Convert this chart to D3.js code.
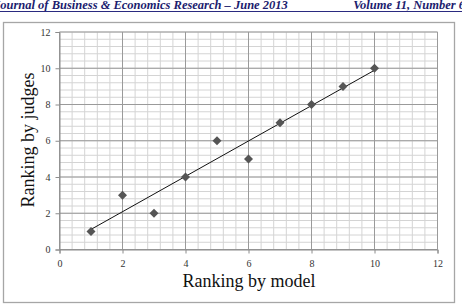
<!DOCTYPE html>
<html>
<head>
<meta charset="utf-8">
<script src="https://cdn.jsdelivr.net/npm/d3@7"></script>
<style>
  body { margin: 0; background: #fff; }
  svg { display: block; font-family: "Liberation Serif", "DejaVu Serif", serif; }
</style>
</head>
<body>
<div id="chart"></div>
<script>
// data
var modelRank = [1, 2, 3, 4, 5, 6, 7, 8, 9, 10];
var judgeRank = [1, 3, 2, 4, 6, 5, 7, 8, 9, 10];
var xTicks = [0, 2, 4, 6, 8, 10, 12];
var yTicks = [0, 2, 4, 6, 8, 10, 12];
var headerLeft = "Journal of Business & Economics Research – June 2013";
var headerRight = "Volume 11, Number 6";

var W = 462, H = 306;
var margin = {top: 32, right: 24.5, bottom: 56.5, left: 59.5},
  width = 437.5 - margin.left,
  height = 249.5 - margin.top;

var svg = d3.select("#chart")
  .append("svg")
    .attr("width", W)
    .attr("height", H);

// page header (cut at the page edges, as in the scan)
svg.append("text").attr("x", -6).attr("y", 9)
  .text(headerLeft)
  .style("font-size", "12.5px").style("font-weight", "bold").style("font-style", "italic")
  .attr("fill", "#1c1c6e");
svg.append("text").attr("x", 465).attr("y", 9).attr("text-anchor", "end")
  .text(headerRight)
  .style("font-size", "12.5px").style("font-weight", "bold").style("font-style", "italic")
  .attr("fill", "#1c1c6e");
svg.append("line").attr("x1", 0).attr("x2", W).attr("y1", 11.5).attr("y2", 11.5)
  .attr("stroke", "#2a2a80").attr("stroke-width", 1.2);

// chart frame
svg.append("rect").attr("x", 3.5).attr("y", 22.5).attr("width", 451).attr("height", 280)
  .attr("fill", "none").attr("stroke", "#a6a6a6").attr("stroke-width", 1.3);

var g = svg.append("g")
  .attr("transform", "translate(" + margin.left + "," + margin.top + ")");

var x = d3.scaleLinear().domain([0, 12]).range([0, width]);
var y = d3.scaleLinear().domain([0, 12]).range([height, 0]);

// minor grid every 0.4
var minor = d3.range(0, 12.001, 0.4);
g.append("g").selectAll("line.mx").data(minor).join("line")
  .attr("x1", d => x(d)).attr("x2", d => x(d))
  .attr("y1", 0).attr("y2", height)
  .attr("stroke", "#d4d4d4").attr("stroke-width", 1);
g.append("g").selectAll("line.my").data(minor).join("line")
  .attr("y1", d => y(d)).attr("y2", d => y(d))
  .attr("x1", 0).attr("x2", width)
  .attr("stroke", "#d4d4d4").attr("stroke-width", 1);

// major grid every 2
g.append("g").selectAll("line").data(xTicks).join("line")
  .attr("x1", d => x(d)).attr("x2", d => x(d))
  .attr("y1", 0).attr("y2", height)
  .attr("stroke", "#9a9a9a").attr("stroke-width", 1);
g.append("g").selectAll("line").data(yTicks).join("line")
  .attr("y1", d => y(d)).attr("y2", d => y(d))
  .attr("x1", 0).attr("x2", width)
  .attr("stroke", "#9a9a9a").attr("stroke-width", 1);

// axes
var xAxis = g.append("g")
  .attr("transform", "translate(0," + height + ")")
  .call(d3.axisBottom(x).tickValues(xTicks).tickSize(4).tickPadding(6));
var yAxis = g.append("g")
  .call(d3.axisLeft(y).tickValues(yTicks).tickSize(4).tickPadding(5));
[xAxis, yAxis].forEach(function(a) {
  a.select(".domain").attr("stroke", "#8c8c8c");
  a.selectAll(".tick line").attr("stroke", "#8c8c8c");
  a.selectAll("text").style("font-size", "10px").style("font-family", "Liberation Serif, serif").attr("fill", "#333");
});

// linear trendline (least squares)
var mx = d3.mean(modelRank), my = d3.mean(judgeRank);
var sxy = d3.sum(modelRank, (v, i) => (v - mx) * (judgeRank[i] - my));
var sxx = d3.sum(modelRank, v => (v - mx) * (v - mx));
var slope = sxy / sxx, icpt = my - slope * mx;
var x0 = d3.min(modelRank), x1 = d3.max(modelRank);
g.append("line")
  .attr("x1", x(x0)).attr("y1", y(icpt + slope * x0))
  .attr("x2", x(x1)).attr("y2", y(icpt + slope * x1))
  .attr("stroke", "#111").attr("stroke-width", 1);

// points
g.append("g").selectAll("path").data(modelRank).join("path")
  .attr("transform", (d, i) => "translate(" + x(d) + "," + y(judgeRank[i]) + ")")
  .attr("d", "M0,-4.5L4.5,0L0,4.5L-4.5,0Z")
  .attr("fill", "#555");

// axis titles
svg.append("text").attr("x", 249).attr("y", 287).attr("text-anchor", "middle")
  .text("Ranking by model").style("font-size", "18px").attr("fill", "#111");
svg.append("text").attr("transform", "translate(34,140) rotate(-90)").attr("text-anchor", "middle")
  .text("Ranking by judges").style("font-size", "18px").attr("fill", "#111");
</script>
</body>
</html>
